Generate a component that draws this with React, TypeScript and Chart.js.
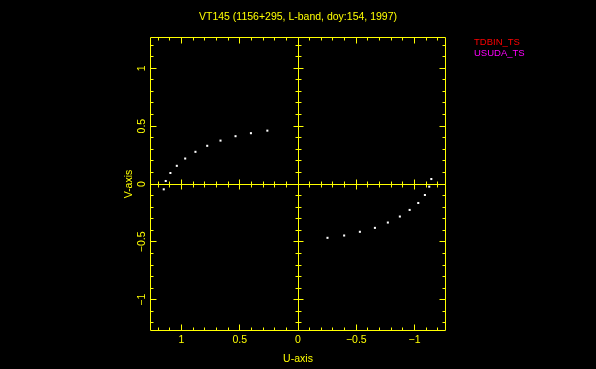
import React, { useEffect, useRef } from "react";
import { Chart, registerables } from "chart.js";

Chart.register(...registerables);

const TITLE = "VT145 (1156+295, L-band, doy:154, 1997)";
const X_LABEL = "U-axis";
const Y_LABEL = "V-axis";
const LEGEND_NAMES = ["TDBIN_TS", "USUDA_TS"];
const LEGEND_COLORS = ["#ff0000", "#ff00ff"];

const U_VALUES = [
  1.152, 1.135, 1.095, 1.04, 0.968, 0.88, 0.779, 0.665, 0.536, 0.404, 0.263,
  -0.253, -0.396, -0.531, -0.66, -0.771, -0.874, -0.958, -1.032, -1.089, -1.126, -1.144,
];
const V_VALUES = [
  -0.046, 0.026, 0.095, 0.157, 0.22, 0.278, 0.33, 0.375, 0.413, 0.439, 0.461,
  -0.465, -0.445, -0.413, -0.379, -0.333, -0.281, -0.224, -0.164, -0.095, -0.023, 0.043,
];

const MAJOR_TICKS = [-1, -0.5, 0, 0.5, 1];
const TICK_LABELS = ["\u22121", "\u22120.5", "0", "0.5", "1"];
const MINOR_TICKS = [
  -1.2, -1.1, -0.9, -0.8, -0.7, -0.6, -0.4, -0.3, -0.2, -0.1,
  0.1, 0.2, 0.3, 0.4, 0.6, 0.7, 0.8, 0.9, 1.1, 1.2,
];
const AXIS_MIN = -1.27;
const AXIS_MAX = 1.27;

const YELLOW = "#ffff00";
const FONT = "10.5px 'Liberation Sans', Arial, sans-serif";
const LEGEND_FONT = "9.5px 'Liberation Sans', Arial, sans-serif";

const framePlugin = {
  id: "pgFrame",
  beforeDatasetsDraw(chart: any) {
    const ctx = chart.ctx;
    const xs = chart.scales.x;
    const ys = chart.scales.y;
    const { left, right, top, bottom } = chart.chartArea;
    const L = left + 0.5;
    const R = right - 0.5;
    const T = top + 0.5;
    const B = bottom - 0.5;
    const px = (v: number) => Math.floor(xs.getPixelForValue(v)) + 0.5;
    const py = (v: number) => Math.floor(ys.getPixelForValue(v)) + 0.5;
    const X0 = px(0);
    const Y0 = py(0);
    ctx.save();
    ctx.strokeStyle = YELLOW;
    ctx.lineWidth = 1;
    ctx.beginPath();
    ctx.rect(L, T, R - L, B - T);
    ctx.moveTo(L, Y0);
    ctx.lineTo(R, Y0);
    ctx.moveTo(X0, T);
    ctx.lineTo(X0, B);
    const drawTicks = (vals: number[], frameLen: number, crossLen: number) => {
      for (const v of vals) {
        const x = px(v);
        const y = py(v);
        ctx.moveTo(x, B);
        ctx.lineTo(x, B - frameLen);
        ctx.moveTo(x, T);
        ctx.lineTo(x, T + frameLen);
        ctx.moveTo(L, y);
        ctx.lineTo(L + frameLen, y);
        ctx.moveTo(R, y);
        ctx.lineTo(R - frameLen, y);
        if (v !== 0) {
          ctx.moveTo(x, Y0 - crossLen);
          ctx.lineTo(x, Y0 + crossLen);
          ctx.moveTo(X0 - crossLen, y);
          ctx.lineTo(X0 + crossLen, y);
        }
      }
    };
    drawTicks(MINOR_TICKS, 3, 3);
    drawTicks(MAJOR_TICKS, 6, 5);
    ctx.stroke();
    ctx.restore();
  },
  afterDraw(chart: any) {
    const ctx = chart.ctx;
    const xs = chart.scales.x;
    const ys = chart.scales.y;
    const { left, right, top, bottom } = chart.chartArea;
    const cx = (left + right) / 2;
    const cy = (top + bottom) / 2;
    ctx.save();
    ctx.font = FONT;
    ctx.fillStyle = YELLOW;
    ctx.textBaseline = "alphabetic";
    ctx.textAlign = "center";
    ctx.fillText(TITLE, cx, 20);
    MAJOR_TICKS.forEach((v, i) => {
      ctx.fillText(TICK_LABELS[i], xs.getPixelForValue(v), bottom + 12);
    });
    ctx.fillText(X_LABEL, cx, bottom + 31);
    MAJOR_TICKS.forEach((v, i) => {
      ctx.save();
      ctx.translate(left - 5, ys.getPixelForValue(v));
      ctx.rotate(-Math.PI / 2);
      ctx.fillText(TICK_LABELS[i], 0, 0);
      ctx.restore();
    });
    ctx.save();
    ctx.translate(left - 18.5, cy);
    ctx.rotate(-Math.PI / 2);
    ctx.fillText(Y_LABEL, 0, 0);
    ctx.restore();
    ctx.textAlign = "left";
    ctx.font = LEGEND_FONT;
    LEGEND_NAMES.forEach((name, i) => {
      ctx.fillStyle = LEGEND_COLORS[i];
      ctx.fillText(name, right + 28, top + 7.5 + i * 11);
    });
    ctx.restore();
  },
};

export default function App() {
  const canvasRef = useRef<HTMLCanvasElement | null>(null);
  useEffect(() => {
    document.body.style.margin = "0";
    document.body.style.background = "#000";
    const canvas = canvasRef.current;
    if (!canvas) return;
    const chart = new Chart(canvas, {
      type: "scatter",
      data: {
        datasets: [
          {
            label: LEGEND_NAMES.join("-"),
            data: U_VALUES.map((u, i) => ({ x: u, y: V_VALUES[i] })),
            backgroundColor: "#ffffff",
            borderColor: "#ffffff",
            borderWidth: 0,
            pointStyle: "rect",
            pointRadius: 1.45,
            pointHoverRadius: 1.45,
          },
        ],
      },
      options: {
        responsive: false,
        animation: false,
        devicePixelRatio: 1,
        layout: { padding: { left: 150, right: 150, top: 37, bottom: 38 } },
        plugins: {
          legend: { display: false },
          title: { display: false },
          tooltip: { enabled: false },
        },
        scales: {
          x: { type: "linear", display: false, reverse: true, min: AXIS_MIN, max: AXIS_MAX },
          y: { type: "linear", display: false, min: AXIS_MIN, max: AXIS_MAX },
        },
      },
      plugins: [framePlugin],
    });
    return () => chart.destroy();
  }, []);
  return (
    <div style={{ position: "fixed", left: 0, top: 0, width: 596, height: 369, background: "#000" }}>
      <canvas ref={canvasRef} width={596} height={369} style={{ display: "block" }} />
    </div>
  );
}
